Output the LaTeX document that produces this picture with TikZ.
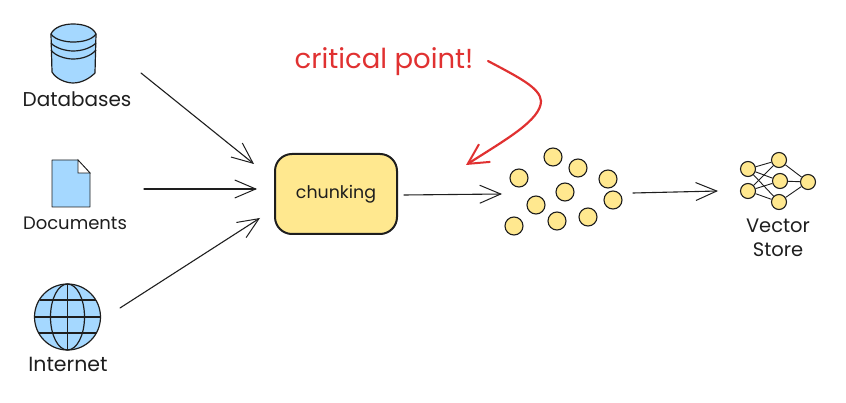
\documentclass[tikz,border=0pt]{standalone}
\usepackage{fontspec}
\setmainfont{Poppins}
\usetikzlibrary{arrows.meta}
\definecolor{ink}{HTML}{1E1E1E}
\definecolor{skyfill}{HTML}{A5D8FF}
\definecolor{sunfill}{HTML}{FFE88F}
\definecolor{alert}{HTML}{E03131}
\tikzset{
  barb/.style={-{Straight Barb[length=21pt,width=18pt,line width=1pt]},ink,line width=1.1pt,line cap=round},
  icon/.style={draw=ink,fill=skyfill,line width=1.2pt,line join=round},
  iconline/.style={draw=ink,line width=1.2pt},
  dot/.style={circle,draw=ink,fill=sunfill,line width=1.1pt,inner sep=0pt,minimum size=18pt},
  nndot/.style={circle,draw=ink,fill=sunfill,line width=1.1pt,inner sep=0pt,minimum size=15pt},
  nnlink/.style={draw=ink,line width=.9pt},
  label/.style={ink,font=\fontsize{#1}{24}\selectfont,inner sep=0pt,align=center},
  procbox/.style={draw=ink,fill=sunfill,line width=2pt,rounded corners=17pt,minimum width=122pt,minimum height=80pt,inner sep=0pt},
}
\begin{document}
\begin{tikzpicture}[x=1pt,y=-1pt]
\useasboundingbox (0,0) rectangle (846,403);
% database icon
\path[icon] (51,34) -- (52,72) .. controls (56,79) and (66,83) .. (73,83) .. controls (82,83) and (90,78) .. (95,73) -- (96,34) .. controls (93,27) and (83,24) .. (73,24) .. controls (64,24) and (54,27) .. (51,34) -- cycle;
\path[iconline] (51,34) .. controls (55,40) and (66,42) .. (73,42) .. controls (82,42) and (92,40) .. (96,34);
\path[iconline] (51,43) .. controls (55,48) and (66,51) .. (73,51) .. controls (82,51) and (91,48) .. (96,43);
\path[iconline] (51,50) .. controls (55,56) and (66,59) .. (73,59) .. controls (82,59) and (91,56) .. (96,50);
\node[label=20] (dblabel) at (77,99) {Databases};
% document icon
\path[icon,line width=.8pt] (52,160) -- (78,160) -- (90,173) -- (90,207) -- (52,207) -- cycle;
\path[draw=ink,fill=white,line width=.8pt] (78,160) -- (78,173) -- (90,173) -- cycle;
\node[label=18] (doclabel) at (75,223) {Documents};
% globe icon
\path[icon] (67.5,317) circle[radius=33];
\path[iconline] (67.5,317) ellipse[x radius=17,y radius=33];
\path[iconline] (67.5,284) -- (67.5,350);
\path[iconline] (39.5,300) -- (95.5,300);
\path[iconline] (34.5,317) -- (100.5,317);
\path[iconline] (39,333) -- (96,333);
\node[label=20.5] (netlabel) at (68,364) {Internet};
% chunking
\node[procbox] (chunk) at (336,194) {};
\node[label=17.4] (chunktext) at (336,194) {chunking};
% critical point
\node[alert,font=\fontsize{27.5}{32}\selectfont,inner sep=0pt] (crit) at (384,62) {critical point!};
% dots
\foreach \n/\x/\y in {a/553/157,b/578/168,c/519/178,d/608/179,e/565/192,f/613/200,g/536/205,h/588/217,i/557/221,j/514/226}
  \node[dot] (dot\n) at (\x,\y) {};
% neural net
\node[nndot] (n1) at (748,169) {};
\node[nndot] (n2) at (748,191) {};
\node[nndot] (m1) at (779,160) {};
\node[nndot] (m2) at (780,181) {};
\node[nndot] (m3) at (779,202) {};
\node[nndot] (o1) at (808,182) {};
\foreach \s in {n1,n2}\foreach \t in {m1,m2,m3}\path[nnlink] (\s) -- (\t);
\foreach \t in {m1,m2,m3}\path[nnlink] (\t) -- (o1);
\node[label=19.5] (vslabel) at (778,237.5) {Vector\\Store};
% connector ends
\coordinate (dbout) at (141,73);
\coordinate (docout) at (144,189);
\coordinate (netout) at (120,308);
\coordinate (inA) at (254,164);
\coordinate (inB) at (257,189);
\coordinate (inC) at (260,218);
\coordinate (chunkout) at (404,195);
\coordinate (cloudin) at (502,194);
\coordinate (cloudout) at (633,193);
\coordinate (vsin) at (718,191);
\coordinate (critout) at (488,61);
\coordinate (critin) at (466,165);
\draw[barb] (dbout) -- (inA);
\draw[barb] (docout) -- (inB);
\draw[barb] (netout) -- (inC);
\draw[barb] (chunkout) -- (cloudin);
\draw[barb] (cloudout) -- (vsin);
\draw[barb,alert,line width=2.2pt,-{Straight Barb[length=20pt,width=21pt,line width=2pt]}] (critout) .. controls (520,78) and (540,88) .. (541,101) .. controls (541,120) and (505,140) .. (critin);
\end{tikzpicture}
\end{document}
